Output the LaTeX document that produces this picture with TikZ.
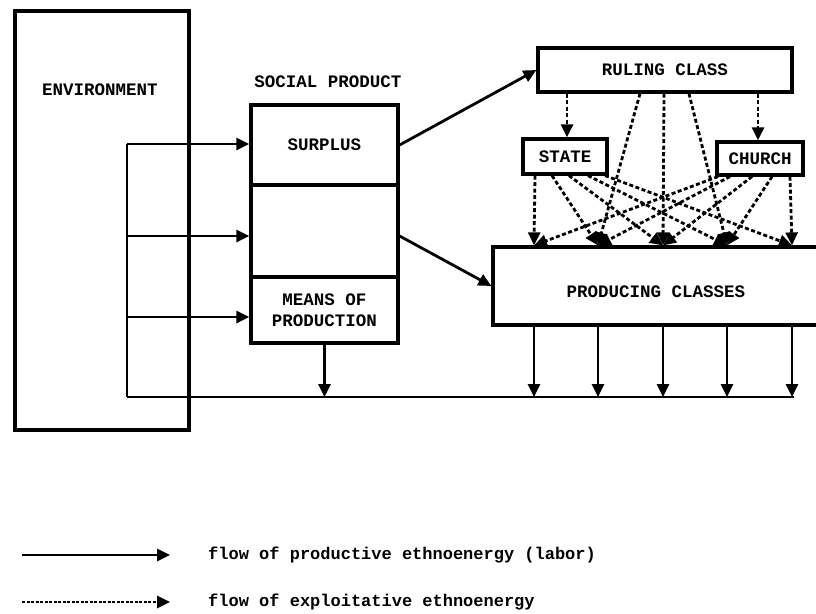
\documentclass[tikz,border=0pt]{standalone}
\usepackage{fontspec}
\setmonofont{Liberation Mono}
\usetikzlibrary{arrows.meta,calc}
\begin{document}
\begin{tikzpicture}[x=1pt,y=-1pt,line join=miter,
  txt/.style={font=\ttfamily\bfseries\fontsize{17.5}{21}\selectfont},
  box/.style={draw,line width=3.2pt,inner sep=0pt,txt,align=center},
  tip/.style={-{Triangle[length=13pt,width=12pt]}},
  flow/.style={line width=2.8pt,tip},
  expl/.style={line width=2.8pt,dash pattern=on 4pt off 2.5pt,tip},
  plain/.style={line width=2.8pt}]
\useasboundingbox (0,0) rectangle (816,613);
% boxes
\node[box,minimum width=174pt,minimum height=419pt] (env) at (102,220.5) {};
\node[txt,inner sep=0pt] (envl) at (100,90) {ENVIRONMENT};
\node[txt,inner sep=0pt] (spl) at (328,82) {SOCIAL PRODUCT};
\node[box,minimum width=147pt,minimum height=80pt] (surplus) at (324.5,145) {SURPLUS};
\node[box,minimum width=147pt,minimum height=92pt] (mid) at (324.5,231) {};
\node[box,minimum width=147pt,minimum height=66pt] (means) at (324.5,310) {MEANS OF\\PRODUCTION};
\node[box,minimum width=254pt,minimum height=44pt] (ruling) at (665,70) {RULING CLASS};
\node[box,minimum width=84pt,minimum height=35pt] (state) at (565,156.5) {STATE};
\node[box,minimum width=86pt,minimum height=33pt] (church) at (760,158.5) {CHURCH};
\node[box,minimum width=327pt,minimum height=78pt] (prod) at (656.5,286) {};
\node[txt,inner sep=0pt] (prodl) at (656,292) {PRODUCING CLASSES};
% helper coordinates
\coordinate (b1) at (127,144);
\coordinate (b2) at (127,236);
\coordinate (b3) at (127,317);
\coordinate (bb) at (127,397);
\coordinate (be) at (794,397);
\foreach \n/\x in {1/534,2/598,3/663,4/727,5/792}{\coordinate (t\n) at (\x,0);}
% environment inflows
\draw[plain] (bb) -- (b1);
\draw[plain] (bb) -- (be);
\draw[flow] (b1) -- (surplus.west |- b1);
\draw[flow] (b2) -- (mid.west |- b2);
\draw[flow] (b3) -- (means.west |- b3);
\draw[flow] (means.south) -- (means.south |- bb);
% surplus and remainder
\draw[flow] (surplus.east) -- (ruling.west);
\draw[flow] ($(mid.east)+(0,5)$) -- (prod.west);
% producing classes back to environment
\foreach \n in {1,...,5}{\draw[flow] (prod.south -| t\n) -- (bb -| t\n);}
% exploitative flows
\coordinate (r1) at (567,0); \coordinate (r2) at (640,0); \coordinate (r3) at (664,0);
\coordinate (r4) at (689,0); \coordinate (r5) at (758,0);
\draw[expl] (ruling.south -| r1) -- (state.north -| r1);
\draw[expl] (ruling.south -| r5) -- (church.north -| r5);
\draw[expl] (ruling.south -| r2) -- (prod.north -| t2);
\draw[expl] (ruling.south -| r3) -- (prod.north -| t3);
\draw[expl] (ruling.south -| r4) -- (prod.north -| t4);
\foreach \x/\n in {535/1,552/2,569/3,588/4,605/5}{
  \coordinate (s\n) at (\x,0);
  \draw[expl] (state.south -| s\n) -- (prod.north -| t\n);}
\foreach \x/\n in {718/1,730/2,752/3,772/4,790/5}{
  \coordinate (c\n) at (\x,0);
  \draw[expl] (church.south -| c\n) -- (prod.north -| t\n);}
% legend
\coordinate (la) at (22,555); \coordinate (lb) at (170,555);
\coordinate (lc) at (22,602); \coordinate (ld) at (170,602);
\draw[flow] (la) -- (lb);
\draw[line width=2.8pt,dash pattern=on 3pt off 1.5pt,tip] (lc) -- (ld);
\node[txt,anchor=west,inner sep=0pt,font=\ttfamily\bfseries\fontsize{17}{19}\selectfont] (lt1) at (208,555) {flow of productive ethnoenergy (labor)};
\node[txt,anchor=west,inner sep=0pt,font=\ttfamily\bfseries\fontsize{17}{19}\selectfont] (lt2) at (208,602) {flow of exploitative ethnoenergy};
\end{tikzpicture}
\end{document}
